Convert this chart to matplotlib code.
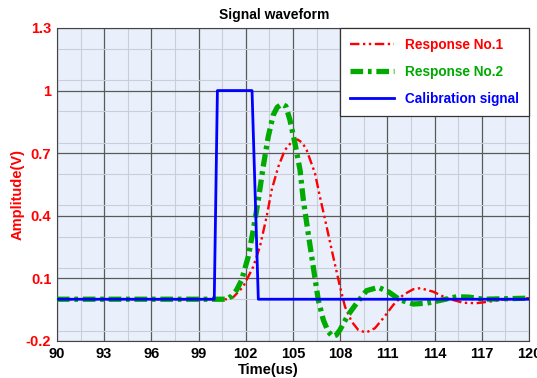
import numpy as np
import matplotlib
matplotlib.use('Agg')
import matplotlib.pyplot as plt
from matplotlib.ticker import MultipleLocator

plt.rcParams['font.family'] = ['Liberation Sans', 'DejaVu Sans']

# calibration pulse
calib_t = [90, 100.0, 100.2, 102.4, 102.8, 120]
calib_v = [0, 0, 1, 1, 0, 0]

# response No.1 (red)
resp1_t = [90, 100.8, 101.2, 101.84, 102.48, 102.9, 103.33, 103.65, 104.07, 104.49,
           105.02, 105.3, 105.6, 105.87, 106.4, 106.72, 107.14, 107.56, 107.99, 108.31,
           108.73, 109.15, 109.64, 110.21, 110.74, 111.38, 112.01, 112.65, 113.1, 113.92,
           114.77, 115.82, 116.67, 117.52, 118.5, 120]
resp1_v = [0, 0, 0.009, 0.06, 0.156, 0.252, 0.396, 0.524, 0.635, 0.715,
           0.763, 0.765, 0.75, 0.715, 0.604, 0.49, 0.348, 0.204, 0.06, -0.036,
           -0.107, -0.147, -0.16, -0.139, -0.091, -0.027, 0.021, 0.048, 0.053, 0.036,
           0.005, -0.017, -0.019, -0.011, 0.0, 0.005]

# response No.2 (green)
resp2_t = [90, 100.8, 101.1, 101.42, 101.74, 102.16, 102.48, 102.8, 103.11, 103.43,
           103.75, 104.0, 104.3, 104.55, 104.81, 105.13, 105.45, 105.66, 105.97, 106.29,
           106.61, 106.93, 107.24, 107.52, 107.75, 107.99, 108.51, 109.05, 109.68, 110.42,
           111.06, 111.8, 112.65, 113.5, 114.4, 115.4, 116.2, 117.1, 120]
resp2_v = [0, 0, 0.015, 0.044, 0.092, 0.204, 0.332, 0.476, 0.635, 0.779,
           0.883, 0.92, 0.935, 0.925, 0.859, 0.747, 0.62, 0.476, 0.316, 0.156,
           -0.003, -0.099, -0.155, -0.179, -0.172, -0.147, -0.075, -0.019, 0.041, 0.057,
           0.036, -0.003, -0.023, -0.019, -0.005, 0.012, 0.01, 0.0, 0.005]

fig = plt.figure(figsize=(5.37, 3.78), dpi=100)
ax = fig.add_axes([0.106, 0.098, 0.879, 0.828])
ax.set_facecolor('#eaf0fb')

ax.plot(resp1_t, resp1_v, color='#ff0000', lw=1.7, ls=(0, (4, 1.5, 1, 1.5, 1, 1.5)),
        label='Response No.1', zorder=3)
ax.plot(resp2_t, resp2_v, color='#00aa00', lw=3.8, ls=(0, (2.4, 0.9, 0.7, 0.9)),
        dash_capstyle='butt', label='Response No.2', zorder=4)
ax.plot(calib_t, calib_v, color='#0000ff', lw=2.0, label='Calibration signal', zorder=5)

ax.set_xlim(90, 120)
ax.set_ylim(-0.2, 1.3)
ax.xaxis.set_major_locator(MultipleLocator(3))
ax.xaxis.set_minor_locator(MultipleLocator(1.5))
ax.yaxis.set_major_locator(MultipleLocator(0.3))
ax.yaxis.set_minor_locator(MultipleLocator(0.15))
ax.set_yticks([-0.2, 0.1, 0.4, 0.7, 1.0, 1.3])
ax.set_yticklabels(['-0.2', '0.1', '0.4', '0.7', '1', '1.3'])
ax.grid(which='major', color='#5a5a5a', lw=0.9, zorder=0)
ax.grid(which='minor', color='#c9ced8', lw=0.8, zorder=0)
ax.set_axisbelow(True)
for s in ax.spines.values():
    s.set_color('#444444')
ax.tick_params(which='both', length=0, pad=4)
ax.tick_params(axis='x', labelsize=10.5, labelcolor='black')
ax.tick_params(axis='y', labelsize=10.5, labelcolor='#ff0000')
for lab in ax.get_xticklabels() + ax.get_yticklabels():
    lab.set_fontweight('bold')

fig.text(0.51, 0.96, 'Signal waveform', ha='center', va='center', fontsize=10, fontweight='bold')
fig.text(0.5, 0.02, 'Time(us)', ha='center', va='center', fontsize=10.5, fontweight='bold')
fig.text(0.033, 0.485, 'Amplitude(V)', ha='center', va='center', rotation=90,
         fontsize=10.5, fontweight='bold', color='#ff0000')

leg = ax.legend(loc='upper right', borderaxespad=0, fancybox=False, framealpha=1,
                edgecolor='#333333', handlelength=3.2, labelspacing=0.95,
                prop={'weight': 'bold', 'size': 9.8}, borderpad=0.75)
leg.get_frame().set_linewidth(0.9)
for txt, c in zip(leg.get_texts(), ['#ff0000', '#00aa00', '#0000ff']):
    txt.set_color(c)

fig.savefig('out.png', dpi=100)
